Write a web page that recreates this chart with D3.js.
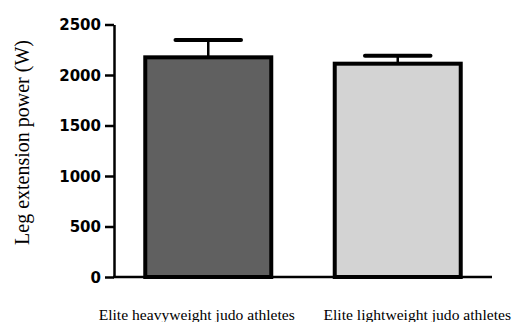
<!DOCTYPE html>
<html lang="en">
<head>
  <meta charset="UTF-8">
  <title>Leg extension power</title>
  <script src="https://d3js.org/d3.v7.min.js"></script>
  <style>
    body { margin: 0; background: #fff; }
    .tick text { font-family: "DejaVu Sans", sans-serif; font-weight: bold; font-size: 15px; fill: #000; }
    .cat-label { font-family: "Liberation Serif", "Times New Roman", serif; font-size: 15.6px; fill: #000; }
    .y-title { font-family: "Liberation Serif", "Times New Roman", serif; font-size: 20px; fill: #000; }
  </style>
</head>
<body>
  <svg width="518" height="322"></svg>
  <script>
    const categories = ["Elite heavyweight judo athletes", "Elite lightweight judo athletes"];
    const means = [2175, 2112];
    const sds = [172, 79];
    const fills = ["#606060", "#d3d3d3"];
    const yTicks = [0, 500, 1000, 1500, 2000, 2500];
    const yTitle = "Leg extension power (W)";
    // label offsets from bar centre (labels in the original are not centred)
    const labelShift = [-11.5, 19.5];

    const data = categories.map((c, i) => ({ cat: c, mean: means[i], sd: sds[i], fill: fills[i], shift: labelShift[i] }));

    const svg = d3.select("svg");
    const plotLeft = 114, plotRight = 492, plotTop = 24.5, plotBottom = 277;

    const x = d3.scaleBand()
      .domain(categories)
      .range([plotLeft, plotRight])
      .paddingInner(0.335)
      .paddingOuter(0.165);

    const y = d3.scaleLinear()
      .domain([0, 2500])
      .range([plotBottom, plotTop]);

    // bars
    svg.selectAll(".bar")
      .data(data)
      .join("rect")
      .attr("class", "bar")
      .attr("x", d => x(d.cat))
      .attr("y", d => y(d.mean))
      .attr("width", x.bandwidth())
      .attr("height", d => y(0) - y(d.mean))
      .attr("fill", d => d.fill)
      .attr("stroke", "#000")
      .attr("stroke-width", 4);

    // error bars (upper only)
    const capW = x.bandwidth() * 0.52;
    svg.selectAll(".err-stem")
      .data(data)
      .join("line")
      .attr("x1", d => x(d.cat) + x.bandwidth() / 2)
      .attr("x2", d => x(d.cat) + x.bandwidth() / 2)
      .attr("y1", d => y(d.mean))
      .attr("y2", d => y(d.mean + d.sd))
      .attr("stroke", "#000")
      .attr("stroke-width", 2.5);

    svg.selectAll(".err-cap")
      .data(data)
      .join("line")
      .attr("x1", d => x(d.cat) + x.bandwidth() / 2 - capW / 2)
      .attr("x2", d => x(d.cat) + x.bandwidth() / 2 + capW / 2)
      .attr("y1", d => y(d.mean + d.sd))
      .attr("y2", d => y(d.mean + d.sd))
      .attr("stroke", "#000")
      .attr("stroke-width", 4)
      .attr("stroke-linecap", "round");

    // y axis
    const yAxis = svg.append("g")
      .attr("transform", `translate(${plotLeft},0)`)
      .call(d3.axisLeft(y).tickValues(yTicks).tickFormat(d3.format("d"))
        .tickSize(9).tickSizeOuter(0).tickPadding(4));
    yAxis.select(".domain").attr("stroke", "#000").attr("stroke-width", 2.5);
    yAxis.selectAll(".tick line").attr("stroke", "#000").attr("stroke-width", 2.5);
    yAxis.selectAll(".tick text").attr("dy", "0.36em");

    // x axis
    const xAxis = svg.append("g")
      .attr("transform", `translate(0,${plotBottom})`)
      .call(d3.axisBottom(x).tickSize(0).tickSizeOuter(0).tickFormat(""));
    xAxis.select(".domain").attr("stroke", "#000").attr("stroke-width", 2.5)
      .attr("d", `M${plotLeft - 1},0H${plotRight}`);

    // category labels
    svg.selectAll(".cat-label")
      .data(data)
      .join("text")
      .attr("class", "cat-label")
      .attr("x", d => x(d.cat) + x.bandwidth() / 2 + d.shift)
      .attr("y", 320)
      .attr("text-anchor", "middle")
      .text(d => d.cat);

    // y title
    svg.append("text")
      .attr("class", "y-title")
      .attr("transform", "translate(29,142.5) rotate(-90)")
      .attr("text-anchor", "middle")
      .text(yTitle);
  </script>
</body>
</html>
